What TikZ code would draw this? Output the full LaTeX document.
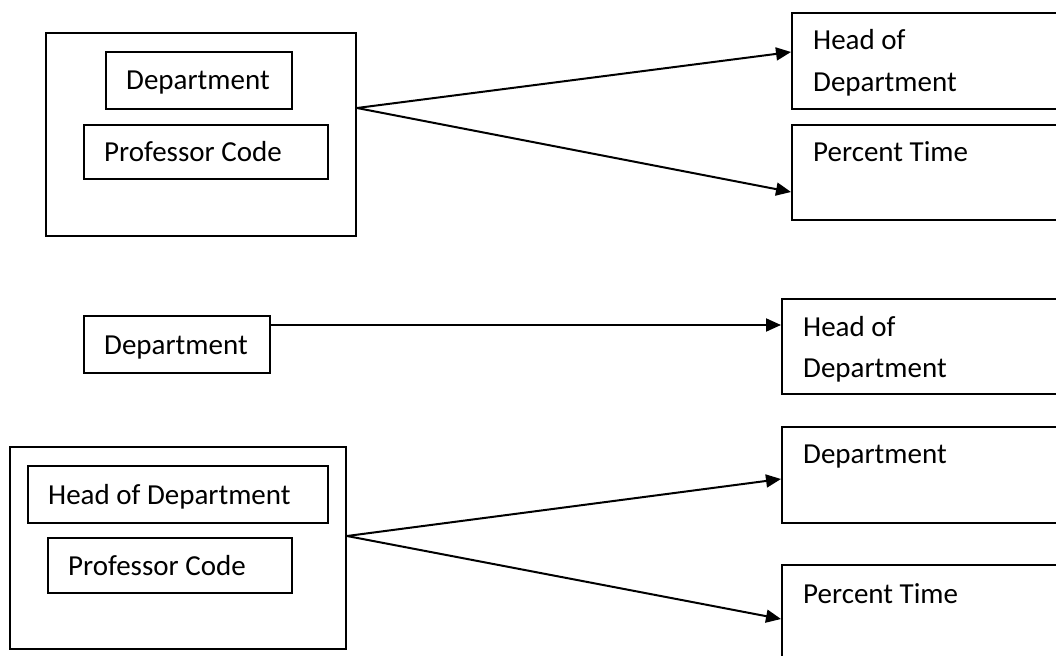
\documentclass[tikz,border=0pt]{standalone}
\usepackage{fontspec}
\setmainfont{Carlito}
\usetikzlibrary{arrows.meta,calc}
\begin{document}
\begin{tikzpicture}[x=1pt,y=-1pt,
  box/.style={draw, line width=2pt, rectangle, inner sep=0pt, anchor=north west},
  lbl/.style={anchor=base west, inner sep=0pt, font=\fontsize{29}{35}\selectfont},
  conn/.style={line width=2pt, -{Triangle[length=15pt,width=13pt]}}]
\useasboundingbox (0,0) rectangle (1056,655);
\clip (0,0) rectangle (1056,655);
% group 1
\node[box, minimum width=310pt, minimum height=203pt] (A) at (45,32) {};
\node[box, minimum width=186pt, minimum height=57pt] (A1) at (105,51) {};
\node[box, minimum width=244pt, minimum height=54pt] (A2) at (83,124) {};
\node[box, minimum width=300pt, minimum height=96pt] (R1) at (791,12) {};
\node[box, minimum width=300pt, minimum height=95pt] (R2) at (791,124) {};
\node[lbl] (tA1) at (126,90) {Department};
\node[lbl] (tA2) at (104,162) {Professor Code};
\node[lbl] (tR1a) at (813,50) {Head of};
\node[lbl] (tR1b) at (813,92) {Department};
\node[lbl] (tR2) at (813,162) {Percent Time};
\coordinate (As) at ([yshift=-76pt]A.north east);
\coordinate (R1t) at ([yshift=-40pt]R1.north west);
\coordinate (R2t) at ([yshift=-68pt]R2.north west);
\draw[conn] (As) -- (R1t);
\draw[conn] (As) -- (R2t);
% group 2
\node[box, minimum width=186pt, minimum height=57pt] (B) at (83,315) {};
\node[box, minimum width=300pt, minimum height=95pt] (R3) at (781,298) {};
\node[lbl] (tB) at (104,354) {Department};
\node[lbl] (tR3a) at (803,336) {Head of};
\node[lbl] (tR3b) at (803,377) {Department};
\coordinate (Bs) at ([yshift=-10pt]B.north east);
\coordinate (R3t) at ([yshift=-27pt]R3.north west);
\draw[conn] (Bs) -- (R3t);
% group 3
\node[box, minimum width=336pt, minimum height=202pt] (C) at (9,446) {};
\node[box, minimum width=300pt, minimum height=57pt] (C1) at (27,465) {};
\node[box, minimum width=244pt, minimum height=55pt] (C2) at (47,537) {};
\node[box, minimum width=300pt, minimum height=96pt] (R4) at (781,426) {};
\node[box, minimum width=300pt, minimum height=120pt] (R5) at (781,564) {};
\node[lbl] (tC1) at (48,504) {Head of Department};
\node[lbl] (tC2) at (68,575) {Professor Code};
\node[lbl] (tR4) at (803,463) {Department};
\node[lbl] (tR5) at (803,603) {Percent Time};
\coordinate (Cs) at ([yshift=-90pt]C.north east);
\coordinate (R4t) at ([yshift=-53pt]R4.north west);
\coordinate (R5t) at ([yshift=-55pt]R5.north west);
\draw[conn] (Cs) -- (R4t);
\draw[conn] (Cs) -- (R5t);
\end{tikzpicture}
\end{document}
